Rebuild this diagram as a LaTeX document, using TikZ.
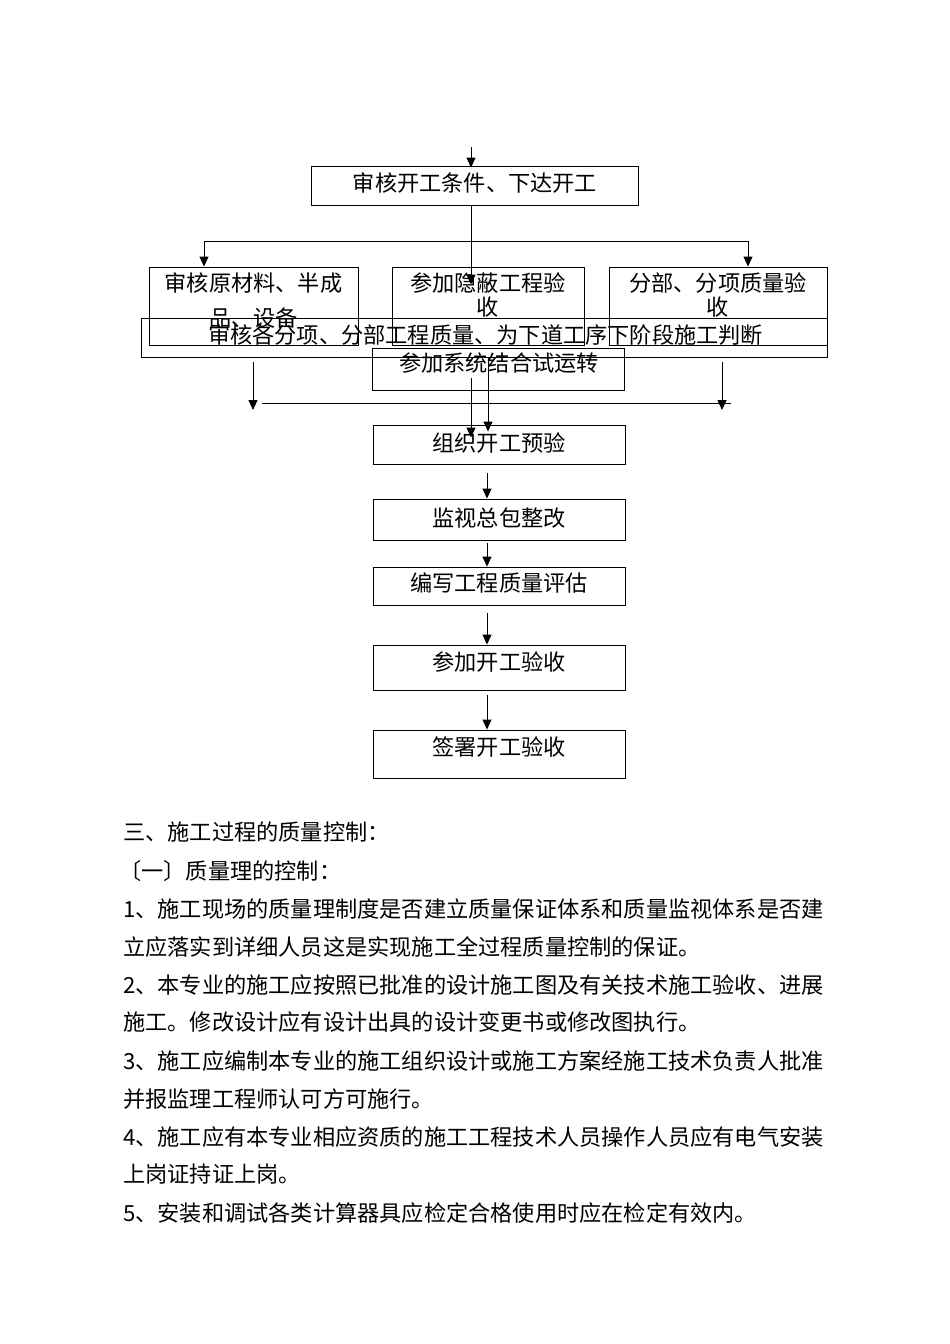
\documentclass[tikz,border=0pt]{standalone}
\usepackage{fontspec}
\newfontfamily\cjk{Noto Sans CJK SC}
\usetikzlibrary{arrows.meta,calc}
\tikzset{
  box/.style={draw=black, line width=0.9pt, inner sep=0pt},
  txt/.style={inner sep=0pt, text height=18.5pt, text depth=1.5pt, font=\cjk\fontsize{22.2}{26}\selectfont},
  ln/.style={draw=black, line width=0.9pt},
  arr/.style={ln, -{Triangle[length=10pt,width=9pt]}}
}
\begin{document}
\begin{tikzpicture}[x=1pt,y=-1pt]
\useasboundingbox (0,0) rectangle (950,1344);
\fill[white] (0,0) rectangle (950,1344);

% boxes
\node[box, minimum width=327pt, minimum height=39pt] (b1) at (474.5,185.5) {};
\node[box, minimum width=209pt, minimum height=78pt] (bL) at (253.5,306) {};
\node[box, minimum width=192pt, minimum height=78pt] (bM) at (488,306) {};
\node[box, minimum width=218pt, minimum height=78pt] (bR) at (718,306) {};
\node[box, minimum width=686pt, minimum height=39pt] (bBig) at (484,337.5) {};
\node[box, minimum width=252pt, minimum height=42pt] (bSys) at (498,369) {};
\node[box, minimum width=252pt, minimum height=39pt] (bOrg) at (499,444.5) {};
\node[box, minimum width=252pt, minimum height=41pt] (bMon) at (499,519.5) {};
\node[box, minimum width=252pt, minimum height=38pt] (bEva) at (499,586) {};
\node[box, minimum width=252pt, minimum height=45pt] (bAcc) at (499,667.5) {};
\node[box, minimum width=252pt, minimum height=48pt] (bSig) at (499,754) {};

% box texts
\node[txt] (t1) at (475,183) {审核开工条件、下达开工};
\node[txt] (tL1) at (253.5,283) {审核原材料、半成};
\node[txt] (tL2) at (253.5,318) {品、设备};
\node[txt] (tM1) at (488,283) {参加隐蔽工程验};
\node[txt] (tM2) at (488,307) {收};
\node[txt] (tR1) at (718,283) {分部、分项质量验};
\node[txt] (tR2) at (718,307) {收};
\node[txt] (tBig) at (485.5,335) {审核各分项、分部工程质量、为下道工序下阶段施工判断};
\node[txt] (tSys) at (499,363) {参加系统结合试运转};
\node[txt] (tOrg) at (499,443) {组织开工预验};
\node[txt] (tMon) at (499,518) {监视总包整改};
\node[txt] (tEva) at (499,583) {编写工程质量评估};
\node[txt] (tAcc) at (499,662) {参加开工验收};
\node[txt] (tSig) at (499,747) {签署开工验收};

% connectors (upper)
\coordinate (top) at (471,147);
\coordinate (jL) at (204,241);
\coordinate (jR) at (748,241);
\draw[arr] (top) -- ($(top |- b1.north)+(0,2)$);
\draw[arr] (b1.south -| top) -- ($(top |- bM.north)+(0,18)$);
\draw[ln] (jL) -- (jR);
\draw[arr] (jL) -- (jL |- bL.north);
\draw[arr] (jR) -- (jR |- bR.north);

% connectors (middle)
\coordinate (dL) at (253,362);
\coordinate (dR) at (722,362);
\coordinate (hL) at (262,403);
\coordinate (hR) at (731,403);
\draw[ln] (hL) -- (hR);
\draw[arr] (dL) -- ($(dL |- hL)+(0,7)$);
\draw[arr] (dR) -- ($(dR |- hR)+(0,7)$);
\coordinate (xa) at (488,0);
\coordinate (xb) at (471,0);
\draw[arr] (bBig.south -| xa) -- ($(xa |- bOrg.north)+(0,7)$);
\draw[arr] ($(xb |- bSys.south)+(0,-12)$) -- ($(xb |- bOrg.north)+(0,13)$);

% connectors (chain)
\coordinate (xc) at (487,0);
\draw[arr] ($(xc |- bOrg.south)+(0,9)$) -- (xc |- bMon.north);
\draw[arr] ($(xc |- bMon.south)+(0,3)$) -- (xc |- bEva.north);
\draw[arr] ($(xc |- bEva.south)+(0,8)$) -- (xc |- bAcc.north);
\draw[arr] ($(xc |- bAcc.south)+(0,5)$) -- (xc |- bSig.north);

% body text
\node[txt, anchor=west] (p1) at (123,832) {三、施工过程的质量控制：};
\node[txt, anchor=west] (p2) at (119,871) {〔一〕质量理的控制：};
\node[txt, anchor=west] (p3) at (123,909) {1、施工现场的质量理制度是否建立质量保证体系和质量监视体系是否建};
\node[txt, anchor=west] (p4) at (123,947) {立应落实到详细人员这是实现施工全过程质量控制的保证。};
\node[txt, anchor=west] (p5) at (123,985) {2、本专业的施工应按照已批准的设计施工图及有关技术施工验收、进展};
\node[txt, anchor=west] (p6) at (123,1022) {施工。修改设计应有设计出具的设计变更书或修改图执行。};
\node[txt, anchor=west] (p7) at (123,1061) {3、施工应编制本专业的施工组织设计或施工方案经施工技术负责人批准};
\node[txt, anchor=west] (p8) at (123,1099) {并报监理工程师认可方可施行。};
\node[txt, anchor=west] (p9) at (123,1137) {4、施工应有本专业相应资质的施工工程技术人员操作人员应有电气安装};
\node[txt, anchor=west] (p10) at (123,1174) {上岗证持证上岗。};
\node[txt, anchor=west] (p11) at (123,1213) {5、安装和调试各类计算器具应检定合格使用时应在检定有效内。};
\end{tikzpicture}
\end{document}
